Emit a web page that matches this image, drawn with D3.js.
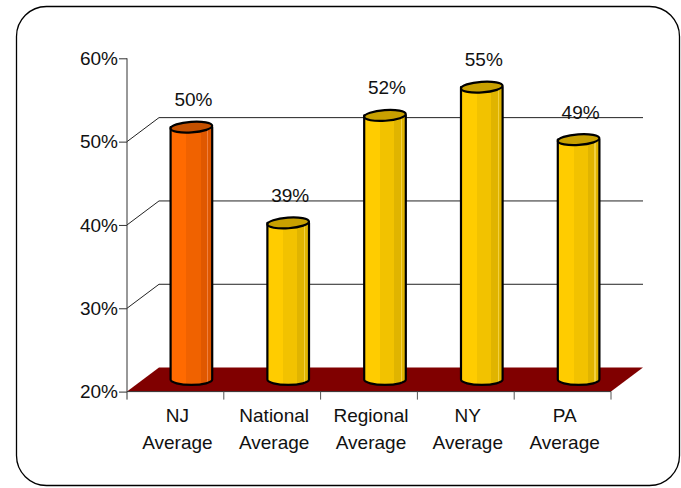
<!DOCTYPE html>
<html><head><meta charset="utf-8">
<script src="https://cdn.jsdelivr.net/npm/d3@7/dist/d3.min.js"></script>
<style>
html,body{margin:0;padding:0;background:#fff;}
svg{display:block;font-family:"Liberation Sans",Arial,sans-serif;}
</style></head>
<body>
<svg id="chart" width="681" height="488"></svg>
<script>
const categories = ["NJ Average","National Average","Regional Average","NY Average","PA Average"];
const values = [50.3, 38.8, 51.7, 55.1, 48.8];
const highlight = ["NJ Average"];
const yTicks = [20, 30, 40, 50, 60];
const gridTicks = [30, 40, 50];

(function () {
const svg = d3.select("#chart");
const pLeft = 127, pRight = 611, pTop = 58.3, pBottom = 391.6;
const dx = 32, dy = -24;

const x = d3.scaleBand().domain(categories).range([pLeft, pRight]);
const y = d3.scaleLinear().domain([20, 60]).range([pBottom, pTop]);
const bw = x.bandwidth();

// frame
svg.append("rect").attr("x", 16.5).attr("y", 6.5).attr("width", 663).attr("height", 479)
  .attr("rx", 30).attr("ry", 30).attr("fill", "#fff").attr("stroke", "#000").attr("stroke-width", 1.3);

// gradients
const defs = svg.append("defs");
function grad(id, c1, c2, c3, hl) {
  const g = defs.append("linearGradient").attr("id", id).attr("x1", "0%").attr("x2", "100%").attr("y1", "0").attr("y2", "0");
  [[0, c1], [0.38, c1], [0.38, c2], [0.72, c2], [0.72, c3], [0.88, c3], [0.88, hl], [0.91, hl], [0.91, c3], [1, c3]]
    .forEach(([o, c]) => g.append("stop").attr("offset", o).attr("stop-color", c));
}
grad("gOrange", "#FF6A00", "#F06200", "#E05800", "#F08040");
grad("gYellow", "#FFCC00", "#F2C200", "#E0B400", "#F2D040");

// gridlines (back wall + diagonals)
const grid = svg.append("g");
gridTicks.forEach(t => {
  grid.append("line").attr("x1", pLeft).attr("y1", y(t)).attr("x2", pLeft + dx).attr("y2", y(t) + dy)
    .attr("stroke", "#222").attr("stroke-width", 1);
  grid.append("line").attr("x1", pLeft + dx).attr("y1", y(t) + dy).attr("x2", pRight + dx).attr("y2", y(t) + dy)
    .attr("stroke", "#222").attr("stroke-width", 1);
});

// floor
svg.append("path")
  .attr("d", `M${pLeft},${pBottom} L${pLeft + dx},${pBottom + dy} L${pRight + dx},${pBottom + dy} L${pRight},${pBottom} Z`)
  .attr("fill", "#800000");

// y axis
const yAxis = d3.axisLeft(y).tickValues(yTicks).tickFormat(d => d + "%").tickSize(8).tickPadding(1);
const ya = svg.append("g").attr("transform", `translate(${pLeft},0)`).call(yAxis);
ya.select(".domain").remove();
ya.selectAll(".tick line").attr("stroke", "#333");
ya.selectAll(".tick text").attr("font-size", 19).attr("fill", "#111")
  .attr("font-family", "Liberation Sans, Arial, sans-serif");
svg.append("line").attr("x1", pLeft).attr("x2", pLeft).attr("y1", pTop).attr("y2", pBottom + 8)
  .attr("stroke", "#333").attr("stroke-width", 1);

// x axis line and boundary ticks
svg.append("line").attr("x1", pLeft).attr("x2", pRight).attr("y1", pBottom).attr("y2", pBottom)
  .attr("stroke", "#333");
const bounds = categories.map(c => x(c)).concat([x(categories[categories.length - 1]) + bw]);
svg.selectAll(".xt").data(bounds.slice(1)).enter().append("line")
  .attr("x1", d => d).attr("x2", d => d).attr("y1", pBottom).attr("y2", pBottom + 8)
  .attr("stroke", "#555");

// category labels
const cl = svg.selectAll(".cl").data(categories).enter().append("text")
  .attr("text-anchor", "middle").attr("font-size", 19).attr("fill", "#111");
cl.each(function (c) {
  const parts = c.split(" ");
  const t = d3.select(this);
  const cx = x(c) + bw / 2 + 2;
  t.append("tspan").attr("x", cx).attr("y", 422).text(parts[0]);
  t.append("tspan").attr("x", cx).attr("y", 449).text(parts.slice(1).join(" "));
});

// cylinders
const rx = bw * 0.215, ry = 5.3;
const bars = svg.selectAll(".bar").data(categories).enter().append("g");
bars.each(function (c, i) {
  const g = d3.select(this);
  const cx = x(c) + bw / 2 + dx / 2;
  const ty = y(values[i]) + dy / 2;
  const by = pBottom + dy / 2;
  const isH = highlight.includes(c);
  g.append("path")
    .attr("d", `M${cx - rx},${ty} L${cx - rx},${by} A${rx},${ry} 0 0 0 ${cx + rx},${by} L${cx + rx},${ty} Z`)
    .attr("fill", isH ? "url(#gOrange)" : "url(#gYellow)")
    .attr("stroke", "#000").attr("stroke-width", 2.2).attr("stroke-linejoin", "round");
  g.append("ellipse").attr("cx", cx).attr("cy", ty).attr("rx", rx).attr("ry", ry)
    .attr("transform", `rotate(-4,${cx},${ty})`)
    .attr("fill", isH ? "#C45000" : "#C8A000")
    .attr("stroke", "#000").attr("stroke-width", 2.2);
  g.append("text").attr("x", cx + 2).attr("y", ty - 21).attr("text-anchor", "middle")
    .attr("font-size", 19).attr("fill", "#111").text(Math.round(values[i]) + "%");
});
})();
</script>
</body></html>
